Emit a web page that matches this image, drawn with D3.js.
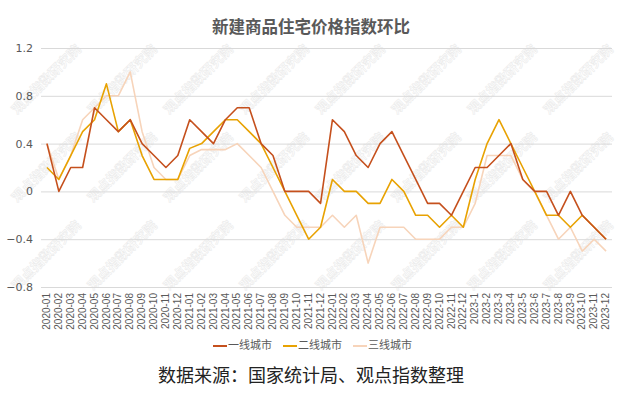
<!DOCTYPE html>
<html>
<head>
<meta charset="utf-8">
<script src="https://cdn.jsdelivr.net/npm/d3@7"></script>
<style>
  body { margin: 0; background: #fff; }
  svg { display: block; font-family: "Noto Sans CJK SC", "Noto Sans", sans-serif; }
</style>
</head>
<body>
<svg id="chart" width="622" height="398"></svg>
<script>
// month labels as printed on the x axis
const months = [
  '2020-01', '2020-02', '2020-03', '2020-04', '2020-05', '2020-06',
  '2020-07', '2020-08', '2020-09', '2020-10', '2020-11', '2020-12',
  '2021-01', '2021-02', '2021-03', '2021-04', '2021-05', '2021-06',
  '2021-07', '2021-08', '2021-09', '2021-10', '2021-11', '2021-12',
  '2022-01', '2022-02', '2022-03', '2022-04', '2022-05', '2022-06',
  '2022-07', '2022-08', '2022-09', '2022-10', '2022-11', '2022-12',
  '2023-1', '2023-2', '2023-3', '2023-4', '2023-5', '2023-6',
  '2023-7', '2023-8', '2023-9', '2023-10', '2023-11', '2023-12'
];

const tier1 = [
  0.4, 0, 0.2, 0.2, 0.7, 0.6, 0.5, 0.6, 0.4, 0.3, 0.2, 0.3,
  0.6, 0.5, 0.4, 0.6, 0.7, 0.7, 0.4, 0.3, 0, 0, 0, -0.1,
  0.6, 0.5, 0.3, 0.2, 0.4, 0.5, 0.3, 0.1, -0.1, -0.1, -0.2, 0,
  0.2, 0.2, 0.3, 0.4, 0.1, 0, 0, -0.2, 0, -0.2, -0.3, -0.4
];
const tier2 = [
  0.2, 0.1, 0.3, 0.5, 0.6, 0.9, 0.5, 0.6, 0.3, 0.1, 0.1, 0.1,
  0.36, 0.4, 0.5, 0.6, 0.6, 0.5, 0.4, 0.2, 0, -0.2, -0.4, -0.3,
  0.1, 0, 0, -0.1, -0.1, 0.1, 0, -0.2, -0.2, -0.3, -0.2, -0.3,
  0.1, 0.4, 0.6, 0.4, 0.2, 0, -0.2, -0.2, -0.3, -0.2, -0.3, -0.4
];
const tier3 = [
  0.4, 0.1, 0.3, 0.6, 0.7, 0.8, 0.8, 1.0, 0.5, 0.2, 0.1, 0.1,
  0.3, 0.35, 0.35, 0.35, 0.4, 0.3, 0.2, 0, -0.2, -0.3, -0.3, -0.3,
  -0.2, -0.3, -0.2, -0.6, -0.3, -0.3, -0.3, -0.4, -0.4, -0.4, -0.3, -0.3,
  -0.1, 0.3, 0.3, 0.3, 0.1, 0, -0.2, -0.4, -0.3, -0.5, -0.4, -0.5
];

const seriesNames = ['一线城市', '二线城市', '三线城市'];
const yTicks = [-0.8, -0.4, 0, 0.4, 0.8, 1.2];

const title = '新建商品住宅价格指数环比';
const source = '数据来源：国家统计局、观点指数整理';
const watermark = '观点指数研究院';

const colors = ['#c5501d', '#e8a202', '#f7d4ba'];
const textColor = '#595959';

const svg = d3.select('#chart');
const width = 622;
const plot = { left: 41, right: 612, top: 48, bottom: 287 };

const x = d3.scalePoint()
  .domain(months)
  .range([plot.left, plot.right])
  .padding(0.5);

const y = d3.scaleLinear()
  .domain([-0.8, 1.2])
  .range([plot.bottom, plot.top]);

// faint watermark under everything
const wm = svg.append('g').attr('class', 'watermark');
[80, 168, 256].forEach((wy) => {
  for (let wx = 47; wx < 622; wx += 76) {
    wm.append('text')
      .attr('transform', `translate(${wx},${wy}) rotate(-45)`)
      .attr('text-anchor', 'middle')
      .attr('dominant-baseline', 'middle')
      .attr('font-size', 13)
      .attr('font-weight', 'bold')
      .attr('fill', 'none')
      .attr('stroke', '#ebebeb')
      .attr('stroke-width', 0.6)
      .text(watermark);
  }
});

// gridlines + y labels
const yAxis = d3.axisLeft(y)
  .tickValues(yTicks)
  .tickSize(-(plot.right - plot.left))
  .tickPadding(8)
  .tickFormat((d) => d === 0 ? '0' : d3.format('.1f')(d));

svg.append('g')
  .attr('class', 'y axis')
  .attr('transform', `translate(${plot.left},0)`)
  .call(yAxis)
  .call((g) => g.select('.domain').remove())
  .call((g) => g.selectAll('.tick line').attr('stroke', '#d9d9d9'))
  .call((g) => g.selectAll('.tick text')
    .attr('fill', textColor)
    .attr('font-size', 11)
    .attr('font-family', '"DejaVu Sans", sans-serif'));

// x labels, rotated
const xAxis = d3.axisBottom(x).tickSize(0).tickPadding(0);

svg.append('g')
  .attr('class', 'x axis')
  .attr('transform', `translate(0,${plot.bottom})`)
  .call(xAxis)
  .call((g) => g.select('.domain').remove())
  .call((g) => g.selectAll('.tick text')
    .attr('fill', textColor)
    .attr('font-size', 10)
    .attr('text-anchor', 'end')
    .attr('dominant-baseline', 'middle')
    .attr('transform', 'translate(0,6) rotate(-90)')
    .attr('x', 0)
    .attr('y', 0)
    .attr('dy', null));

// lines
const line = d3.line()
  .x((d, i) => x(months[i]))
  .y((d) => y(d));

[tier3, tier2, tier1].forEach((values, k) => {
  const idx = 2 - k;
  svg.append('path')
    .datum(values)
    .attr('fill', 'none')
    .attr('stroke', colors[idx])
    .attr('stroke-width', 1.6)
    .attr('stroke-linejoin', 'round')
    .attr('d', line);
});

// title
svg.append('text')
  .attr('x', width / 2)
  .attr('y', 33)
  .attr('text-anchor', 'middle')
  .attr('font-size', 16.5)
  .attr('font-weight', 'bold')
  .attr('fill', textColor)
  .text(title);

// legend
const legendX = [213, 283, 353];
const legend = svg.append('g').attr('class', 'legend')
  .attr('transform', 'translate(0,346)');

seriesNames.forEach((name, i) => {
  legend.append('line')
    .attr('x1', legendX[i])
    .attr('x2', legendX[i] + 14)
    .attr('y1', 0)
    .attr('y2', 0)
    .attr('stroke', colors[i])
    .attr('stroke-width', 2);
  legend.append('text')
    .attr('x', legendX[i] + 15)
    .attr('y', 0)
    .attr('dominant-baseline', 'middle')
    .attr('font-size', 11)
    .attr('fill', textColor)
    .text(name);
});

// source line
svg.append('text')
  .attr('x', width / 2)
  .attr('y', 382)
  .attr('text-anchor', 'middle')
  .attr('font-size', 18)
  .attr('fill', '#222')
  .text(source);
</script>
</body>
</html>
